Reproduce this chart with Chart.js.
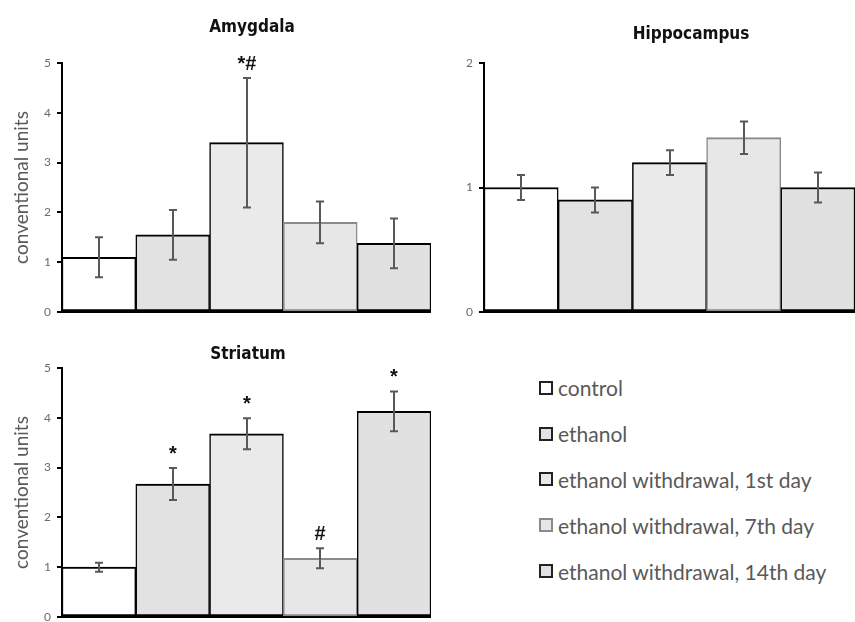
<!DOCTYPE html>
<html>
<head>
<meta charset="utf-8">
<script src="https://cdn.jsdelivr.net/npm/chart.js@4/dist/chart.umd.min.js"></script>
<style>
  html, body { margin: 0; padding: 0; background: #fff; overflow: hidden; }
  body { width: 855px; height: 622px; position: relative; }
  canvas { position: absolute; }
  .ttl { position: absolute; font-family: "DejaVu Sans Condensed", "DejaVu Sans", sans-serif; font-stretch: condensed;
         font-weight: bold; font-size: 17px; color: #111; transform: translate(-50%, -50%); white-space: nowrap; }
  #legend { position: absolute; left: 539px; top: 365px; font-family: Lato, "Open Sans", sans-serif; font-size: 21px; color: #595959; }
  #legend .item { display: flex; align-items: center; height: 45.8px; }
  #legend .box { width: 10px; height: 10px; border: 2px solid #222; margin-right: 5px; box-sizing: content-box; }
</style>
</head>
<body>
<canvas id="cAmy" style="left:0;top:0" width="431" height="326"></canvas>
<canvas id="cHip" style="left:432px;top:0" width="423" height="326"></canvas>
<canvas id="cStr" style="left:0;top:320px" width="431" height="311"></canvas>
<div class="ttl" style="left:252px;top:26px">Amygdala</div>
<div class="ttl" style="left:691px;top:33px">Hippocampus</div>
<div class="ttl" style="left:248px;top:353px">Striatum</div>
<div id="legend"></div>
<script>
// Groups (shared by all three panels)
const groups = ['control', 'ethanol', 'ethanol withdrawal, 1st day', 'ethanol withdrawal, 7th day', 'ethanol withdrawal, 14th day'];

// Mean values and errors per region
const amygdalaMean = [1.1, 1.55, 3.4, 1.8, 1.38];
const amygdalaErr  = [0.4, 0.5, 1.3, 0.42, 0.5];
const amygdalaMarks = ['', '', '*#', '', ''];

const hippocampusMean = [1.0, 0.9, 1.2, 1.4, 1.0];
const hippocampusErr  = [0.1, 0.1, 0.1, 0.13, 0.12];
const hippocampusMarks = ['', '', '', '', ''];

const striatumMean = [1.0, 2.67, 3.68, 1.18, 4.13];
const striatumErr  = [0.09, 0.32, 0.31, 0.2, 0.4];
const striatumMarks = ['', '*', '*', '#', '*'];

// Y-axis tick values
const ticks5 = [0, 1, 2, 3, 4, 5];
const ticks2 = [0, 1, 2];

// Bar styling per group
const fills   = ['#ffffff', '#e2e2e2', '#eaeaea', '#e7e7e7', '#e1e1e1'];
const borders = ['#000000', '#000000', '#000000', '#8a8a8a', '#000000'];

// Error bars and significance marks drawn from the dataset's own scale
const errorBarPlugin = {
  id: 'errorBars',
  afterDatasetsDraw(chart, args, opts) {
    const ctx = chart.ctx;
    const yScale = chart.scales.y;
    const meta = chart.getDatasetMeta(0);
    const mean = chart.data.datasets[0].data;
    ctx.save();
    ctx.strokeStyle = '#595959';
    ctx.lineWidth = 2;
    meta.data.forEach((bar, i) => {
      const hi = yScale.getPixelForValue(mean[i] + opts.err[i]);
      const lo = yScale.getPixelForValue(mean[i] - opts.err[i]);
      const x = Math.round(bar.x);
      ctx.beginPath();
      ctx.moveTo(x, hi); ctx.lineTo(x, lo);
      ctx.moveTo(x - 4, hi); ctx.lineTo(x + 4, hi);
      ctx.moveTo(x - 4, lo); ctx.lineTo(x + 4, lo);
      ctx.stroke();
      const mark = opts.marks[i];
      if (mark) {
        ctx.fillStyle = '#111';
        ctx.font = 'bold 20px "Liberation Sans", sans-serif';
        ctx.textAlign = 'center';
        ctx.textBaseline = 'alphabetic';
        ctx.fillText(mark, x, hi - 8);
      }
    });
    ctx.restore();
  }
};

function makePanel(id, mean, err, marks, maxY, tickVals, yWidth, padTop, xHeight) {
  new Chart(document.getElementById(id), {
    type: 'bar',
    data: {
      labels: groups,
      datasets: [{
        data: mean,
        backgroundColor: fills,
        borderColor: borders,
        borderWidth: { top: 2, bottom: 2, left: 1.5, right: 1.5 },
        borderSkipped: false,
        barPercentage: 1,
        categoryPercentage: 1
      }]
    },
    options: {
      responsive: false,
      animation: false,
      devicePixelRatio: 1,
      layout: { padding: { top: padTop, left: 0, right: 0, bottom: 0 } },
      plugins: {
        legend: { display: false },
        tooltip: { enabled: false },
        title: { display: false },
        errorBars: { err: err, marks: marks }
      },
      scales: {
        x: {
          ticks: { display: false },
          grid: { drawOnChartArea: false, drawTicks: false },
          border: { display: true, color: '#000', width: 2 },
          afterFit: (s) => { s.height = xHeight; }
        },
        y: {
          min: 0, max: maxY,
          afterBuildTicks: (s) => { s.ticks = tickVals.map(v => ({ value: v })); },
          ticks: { color: '#6b6b6b', padding: 6, font: { family: 'Lato, "Open Sans", sans-serif', size: 12 } },
          grid: { drawOnChartArea: false, drawTicks: true, tickLength: 5, color: '#000', lineWidth: 2 },
          border: { display: true, color: '#000', width: 2 },
          title: {
            display: yWidth > 55,
            text: 'conventional units',
            color: '#595959',
            padding: { top: 10, bottom: 0 },
            font: { family: 'Lato, "Open Sans", sans-serif', size: 19 }
          },
          afterFit: (s) => { s.width = yWidth; }
        }
      }
    },
    plugins: [errorBarPlugin]
  });
}

makePanel('cAmy', amygdalaMean, amygdalaErr, amygdalaMarks, 5, ticks5, 62, 63, 14);
makePanel('cHip', hippocampusMean, hippocampusErr, hippocampusMarks, 2, ticks2, 52, 63, 14);
makePanel('cStr', striatumMean, striatumErr, striatumMarks, 5, ticks5, 62, 48, 14);

// Legend built from the group names and bar styles
const legend = document.getElementById('legend');
groups.forEach((g, i) => {
  const item = document.createElement('div');
  item.className = 'item';
  const box = document.createElement('span');
  box.className = 'box';
  box.style.background = fills[i];
  box.style.borderColor = borders[i] === '#000000' ? '#222' : borders[i];
  const label = document.createElement('span');
  label.textContent = g;
  item.appendChild(box);
  item.appendChild(label);
  legend.appendChild(item);
});
</script>
</body>
</html>
